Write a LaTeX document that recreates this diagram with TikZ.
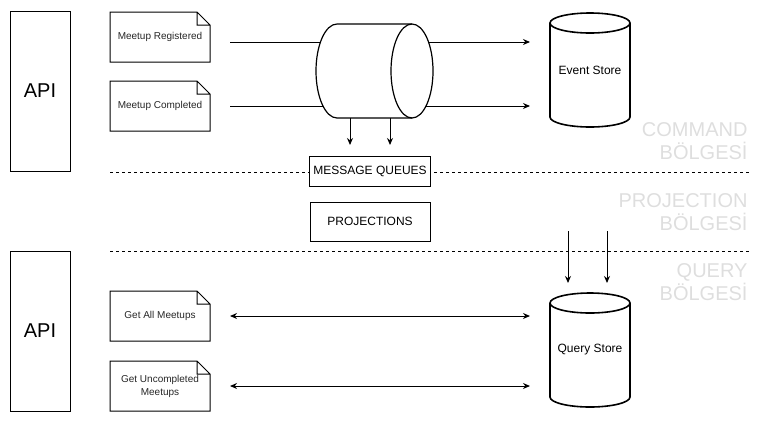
\documentclass[tikz,border=0pt]{standalone}
\usepackage{fontspec}
\setmainfont{Liberation Sans}
\usepackage{tikz}
\usetikzlibrary{arrows.meta}

\begin{document}
\begin{tikzpicture}[x=1pt,y=-1pt,line width=1pt,>={Stealth[length=7pt,width=6pt]},
	api/.style={draw,minimum width=60pt,minimum height=160pt,font=\fontsize{20}{24}\selectfont},
	evnt/.style={minimum width=100pt,minimum height=50pt,outer sep=0pt,align=center,text=black!85,font=\fontsize{10}{13}\selectfont},
	boxx/.style={draw,fill=white,minimum width=120pt,font=\fontsize{12}{14}\selectfont},
	store/.style={minimum width=80pt,minimum height=114pt,outer sep=0pt,font=\fontsize{12}{14}\selectfont},
	zone/.style={anchor=north east,inner sep=0pt,align=right,text=black!13,font=\fontsize{20}{23}\selectfont}]
		\useasboundingbox (0,0) rectangle (762,424);
		%\draw[help lines] (0,0) grid (762,424);
		\node[api] (apic) at (40,91) {API};
		\node[api] (apiq) at (40,331) {API};
		\node[evnt] (reg) at (160,37) {Meetup Registered};
		\node[evnt] (cmp) at (160,106) {Meetup Completed};
		\node[evnt] (gall) at (160,316) {Get All Meetups};
		\node[evnt] (gunc) at (160,386) {Get Uncompleted\\Meetups};
		\foreach \n in {reg,cmp,gall,gunc}
		\draw (\n.south west) -- (\n.north west) -- ([xshift=-13pt]\n.north east) -- ([yshift=-13pt]\n.north east) -- (\n.south east) -- cycle
			([xshift=-13pt]\n.north east) -- ([xshift=-13pt,yshift=-13pt]\n.north east) -- ([yshift=-13pt]\n.north east);
		% stores
		\node[store] (evst) at (590,70) {Event Store};
		\node[store] (qrst) at (590,350) {Query Store};
		\foreach \s in {evst,qrst}{
		\draw[line width=1.6pt] ([yshift=-10pt]\s.north west) -- ([yshift=10pt]\s.south west) arc[start angle=180,end angle=360,x radius=40pt,y radius=10pt] -- ([yshift=-10pt]\s.north east);
		\draw[line width=1.6pt] ([yshift=-10pt]\s.north) ellipse[x radius=40pt,y radius=10pt];}
		% event arrows, behind the queue
		\coordinate (e1) at (230,42);
		\coordinate (e2) at (230,106);
		\draw[->] (e1) -- ([xshift=-20pt]evst.west |- e1);
		\draw[->] (e2) -- ([xshift=-20pt]evst.west |- e2);
		\draw[<->] (gall.east) ++(20,0) coordinate (g1) -- ([xshift=-20pt]qrst.west |- g1);
		\draw[<->] (gunc.east) ++(20,0) coordinate (g2) -- ([xshift=-20pt]qrst.west |- g2);
		\node[minimum width=117pt,minimum height=94pt,outer sep=0pt] (queue) at (374.5,71) {};
		\draw[fill=white,line width=1.2pt] ([xshift=21pt]queue.north west) -- ([xshift=-21pt]queue.north east) arc[start angle=90,end angle=-90,x radius=21pt,y radius=47pt] -- ([xshift=21pt]queue.south west) arc[start angle=270,end angle=90,x radius=21pt,y radius=47pt] -- cycle;
		\draw[line width=1.2pt] ([xshift=-21pt]queue.north east) arc[start angle=90,end angle=270,x radius=21pt,y radius=47pt];
		% zone borders
		\draw[dash pattern=on 3pt off 3pt] (110,172) -- (750,172);
		\draw[dash pattern=on 3pt off 3pt] (110,251) -- (750,251);
		\node[boxx,minimum height=30pt] (mq) at (370,171.5) {MESSAGE QUEUES};
		\node[boxx,minimum height=39pt] (proj) at (370,221.5) {PROJECTIONS};
		\foreach \x in {350,390}
		\draw[->] (queue.south -| \x,0) -- (\x,145);
		\foreach \x in {568,607}
		\draw[->] (\x,231) -- ([yshift=10pt]qrst.north -| \x,0);
		\node[zone] (zcmd) at (748,122) {COMMAND\\BÖLGESİ};
		\node[zone] (zprj) at (748,193) {PROJECTION\\BÖLGESİ};
		\node[zone] (zqry) at (748,263) {QUERY\\BÖLGESİ};
\end{tikzpicture}
\end{document}
